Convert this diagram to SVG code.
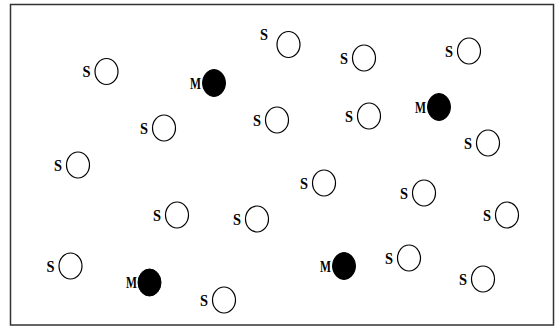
<svg xmlns="http://www.w3.org/2000/svg" width="556" height="327" viewBox="0 0 556 327">
<style>
.s{fill:#fff;stroke:#000;stroke-width:1.2}
.m{fill:#000;stroke:#000;stroke-width:1}
text{font-family:"Liberation Serif","DejaVu Serif",serif;font-weight:bold;font-size:17.5px;fill:#000;text-anchor:end}
</style>
<rect x="0" y="0" width="556" height="327" fill="#fff"/>
<rect x="10.5" y="4.5" width="543" height="320.5" fill="none" stroke="#333" stroke-width="1.5"/>
<g id="s1"><ellipse class="s" cx="288.5" cy="44.5" rx="11.5" ry="13"/><text x="268" y="40" textLength="8" lengthAdjust="spacingAndGlyphs">S</text></g>
<g id="s2"><ellipse class="s" cx="364" cy="58" rx="11.5" ry="13"/><text x="348" y="64" textLength="8" lengthAdjust="spacingAndGlyphs">S</text></g>
<g id="s3"><ellipse class="s" cx="469" cy="51" rx="11.5" ry="13"/><text x="453" y="57" textLength="8" lengthAdjust="spacingAndGlyphs">S</text></g>
<g id="s4"><ellipse class="s" cx="106.5" cy="71.5" rx="11.5" ry="13"/><text x="90.5" y="77" textLength="8" lengthAdjust="spacingAndGlyphs">S</text></g>
<g id="s5"><ellipse class="s" cx="277" cy="120" rx="11.5" ry="13"/><text x="261" y="126" textLength="8" lengthAdjust="spacingAndGlyphs">S</text></g>
<g id="s6"><ellipse class="s" cx="369" cy="116" rx="11.5" ry="13"/><text x="353" y="122" textLength="8" lengthAdjust="spacingAndGlyphs">S</text></g>
<g id="s7"><ellipse class="s" cx="164" cy="128" rx="11.5" ry="13"/><text x="148" y="134" textLength="8" lengthAdjust="spacingAndGlyphs">S</text></g>
<g id="s8"><ellipse class="s" cx="488" cy="143" rx="11.5" ry="13"/><text x="472" y="149" textLength="8" lengthAdjust="spacingAndGlyphs">S</text></g>
<g id="s9"><ellipse class="s" cx="78" cy="165" rx="11.5" ry="13"/><text x="62" y="171" textLength="8" lengthAdjust="spacingAndGlyphs">S</text></g>
<g id="s10"><ellipse class="s" cx="324" cy="183" rx="11.5" ry="13"/><text x="308" y="189" textLength="8" lengthAdjust="spacingAndGlyphs">S</text></g>
<g id="s11"><ellipse class="s" cx="424" cy="193" rx="11.5" ry="13"/><text x="408" y="199" textLength="8" lengthAdjust="spacingAndGlyphs">S</text></g>
<g id="s12"><ellipse class="s" cx="177" cy="215" rx="11.5" ry="13"/><text x="161" y="221" textLength="8" lengthAdjust="spacingAndGlyphs">S</text></g>
<g id="s13"><ellipse class="s" cx="257" cy="219" rx="11.5" ry="13"/><text x="241" y="225" textLength="8" lengthAdjust="spacingAndGlyphs">S</text></g>
<g id="s14"><ellipse class="s" cx="507" cy="215" rx="11.5" ry="13"/><text x="491" y="221" textLength="8" lengthAdjust="spacingAndGlyphs">S</text></g>
<g id="s15"><ellipse class="s" cx="70.5" cy="266" rx="11.5" ry="13"/><text x="54.5" y="272" textLength="8" lengthAdjust="spacingAndGlyphs">S</text></g>
<g id="s16"><ellipse class="s" cx="409" cy="258" rx="11.5" ry="13"/><text x="393" y="264" textLength="8" lengthAdjust="spacingAndGlyphs">S</text></g>
<g id="s17"><ellipse class="s" cx="483" cy="279" rx="11.5" ry="13"/><text x="467" y="285" textLength="8" lengthAdjust="spacingAndGlyphs">S</text></g>
<g id="s18"><ellipse class="s" cx="224" cy="300" rx="11.5" ry="13"/><text x="208" y="306" textLength="8" lengthAdjust="spacingAndGlyphs">S</text></g>
<g id="m1"><ellipse class="m" cx="214" cy="83" rx="11.5" ry="13.5"/><text x="201" y="88.5" textLength="11" lengthAdjust="spacingAndGlyphs">M</text></g>
<g id="m2"><ellipse class="m" cx="439" cy="107" rx="11.5" ry="13.5"/><text x="426" y="112.5" textLength="11" lengthAdjust="spacingAndGlyphs">M</text></g>
<g id="m3"><ellipse class="m" cx="149.5" cy="282.5" rx="11.5" ry="13.5"/><text x="137" y="288" textLength="11" lengthAdjust="spacingAndGlyphs">M</text></g>
<g id="m4"><ellipse class="m" cx="344" cy="266" rx="11.5" ry="13.5"/><text x="331" y="271.5" textLength="11" lengthAdjust="spacingAndGlyphs">M</text></g>
</svg>
